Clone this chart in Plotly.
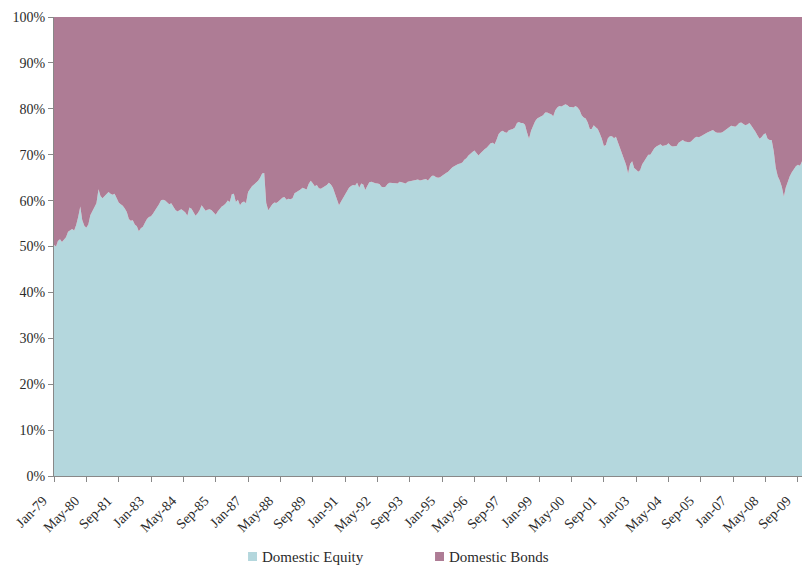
import plotly.graph_objects as go
import pandas as pd

# Monthly share of Domestic Equity (%), Jan-79 .. Nov-09
equity_1979 = [50.3, 50.0, 51.2, 51.6, 51.0, 51.5, 52.0, 53.2, 53.6, 53.8, 53.5, 54.7]
equity_1980 = [56.5, 58.7, 55.8, 54.5, 54.1, 54.8, 56.8, 57.6, 58.4, 59.4, 62.5, 61.0]
equity_1981 = [60.5, 61.0, 61.4, 61.9, 61.5, 61.3, 61.5, 60.4, 59.6, 59.2, 58.9, 58.3]
equity_1982 = [57.5, 56.0, 55.6, 55.7, 54.8, 54.4, 53.3, 54.0, 54.3, 55.2, 56.0, 56.4]
equity_1983 = [56.6, 57.2, 57.8, 58.5, 59.2, 60.1, 60.2, 60.0, 59.5, 59.2, 59.4, 58.6]
equity_1984 = [58.0, 57.6, 57.8, 58.1, 57.8, 57.4, 56.7, 58.5, 58.2, 57.3, 56.7, 57.2]
equity_1985 = [57.9, 59.0, 58.4, 57.8, 58.0, 58.1, 57.9, 57.4, 56.9, 57.6, 58.3, 58.7]
equity_1986 = [59.0, 59.4, 60.0, 59.7, 61.4, 61.5, 59.7, 60.2, 59.0, 59.6, 59.8, 59.4]
equity_1987 = [61.9, 62.6, 63.1, 63.5, 63.8, 64.3, 65.0, 65.9, 66.0, 59.5, 57.9, 58.6]
equity_1988 = [59.2, 59.6, 59.5, 59.8, 60.3, 60.6, 60.8, 60.2, 60.4, 60.3, 60.5, 61.6]
equity_1989 = [61.9, 62.1, 62.4, 62.8, 62.6, 62.4, 63.6, 64.3, 63.8, 63.1, 63.4, 62.7]
equity_1990 = [62.6, 62.9, 63.0, 63.4, 63.9, 63.5, 62.8, 61.5, 60.0, 59.0, 59.8, 60.5]
equity_1991 = [61.2, 61.9, 62.8, 63.2, 63.4, 63.3, 63.9, 62.8, 63.7, 63.5, 62.3, 63.2]
equity_1992 = [64.0, 64.1, 63.9, 63.8, 63.7, 63.6, 63.0, 62.9, 63.0, 63.6, 63.9, 63.9]
equity_1993 = [63.8, 63.8, 63.7, 64.1, 64.0, 63.9, 63.7, 64.1, 64.2, 64.3, 64.5, 64.5]
equity_1994 = [64.6, 64.4, 64.5, 64.6, 64.7, 64.4, 64.9, 65.4, 65.4, 65.1, 65.0, 65.1]
equity_1995 = [65.4, 65.8, 66.0, 66.3, 66.8, 67.2, 67.5, 67.8, 68.0, 68.1, 68.3, 68.9]
equity_1996 = [69.2, 69.8, 70.3, 70.6, 70.9, 70.4, 69.8, 70.3, 70.8, 71.2, 71.5, 72.0]
equity_1997 = [72.5, 72.6, 72.3, 73.3, 74.5, 75.0, 75.2, 74.9, 74.8, 75.3, 75.4, 75.6]
equity_1998 = [75.9, 76.9, 77.1, 76.9, 76.9, 76.5, 74.9, 73.5, 75.2, 76.4, 77.3, 77.9]
equity_1999 = [78.1, 78.4, 78.6, 79.2, 79.2, 79.0, 78.8, 78.4, 79.7, 80.3, 80.6, 80.5]
equity_2000 = [80.7, 81.0, 80.8, 80.4, 80.4, 80.3, 80.6, 80.3, 79.7, 78.6, 78.1, 77.9]
equity_2001 = [77.0, 75.6, 75.6, 76.4, 76.0, 75.6, 74.6, 73.5, 71.9, 72.1, 73.6, 74.0]
equity_2002 = [74.0, 73.6, 73.9, 72.6, 71.3, 70.0, 68.9, 67.8, 65.9, 68.0, 68.6, 67.1]
equity_2003 = [66.7, 66.3, 66.6, 67.9, 68.6, 69.4, 70.0, 70.0, 70.8, 71.4, 71.8, 72.1]
equity_2004 = [72.3, 71.9, 72.0, 72.1, 72.5, 72.0, 71.8, 71.9, 71.9, 72.6, 73.0, 73.2]
equity_2005 = [72.9, 72.8, 72.7, 72.8, 73.3, 73.7, 73.9, 73.8, 74.0, 74.3, 74.5, 74.8]
equity_2006 = [75.0, 75.2, 75.4, 75.0, 74.8, 74.8, 74.8, 75.0, 75.3, 75.6, 76.0, 76.3]
equity_2007 = [76.2, 76.1, 76.4, 76.9, 77.0, 76.7, 76.4, 76.6, 76.9, 76.3, 75.7, 75.0]
equity_2008 = [74.2, 73.5, 73.8, 74.4, 74.7, 73.5, 73.2, 73.2, 70.8, 67.2, 65.3, 64.4]
equity_2009 = [63.0, 60.9, 62.8, 64.3, 65.3, 66.2, 66.8, 67.5, 67.8, 67.6, 68.6]

equity = (equity_1979 + equity_1980 + equity_1981 + equity_1982 + equity_1983 +
          equity_1984 + equity_1985 + equity_1986 + equity_1987 + equity_1988 +
          equity_1989 + equity_1990 + equity_1991 + equity_1992 + equity_1993 +
          equity_1994 + equity_1995 + equity_1996 + equity_1997 + equity_1998 +
          equity_1999 + equity_2000 + equity_2001 + equity_2002 + equity_2003 +
          equity_2004 + equity_2005 + equity_2006 + equity_2007 + equity_2008 +
          equity_2009)
bonds = [round(100 - v, 1) for v in equity]
months = [d.strftime("%Y-%m-%d") for d in
          pd.date_range("1979-01-01", periods=len(equity), freq="MS")]

series_names = ["Domestic Equity", "Domestic Bonds"]
colors = ["#B4D7DD", "#AE7C95"]

FONT = "Liberation Serif"
TEXT_COLOR = "#2b2b2b"

fig = go.Figure()
for name, vals, col in zip(series_names, [equity, bonds], colors):
    fig.add_trace(go.Scatter(
        x=months, y=vals, name=name, mode="lines",
        stackgroup="one", line=dict(width=0, color=col),
        fillcolor=col, showlegend=False,
    ))

# Legend drawn as small square swatches + text, like the original
legend_x = [0.2594, 0.5094]   # left edge of each swatch (paper coords)
sw_w = 0.012
for name, col, lx in zip(series_names, colors, legend_x):
    fig.add_shape(type="rect", xref="paper", yref="paper",
                  x0=lx, x1=lx + sw_w, y0=-0.1852, y1=-0.1656,
                  fillcolor=col, line=dict(width=0))
    fig.add_annotation(xref="paper", yref="paper", x=lx + sw_w + 0.004, y=-0.1755,
                       text=name, showarrow=False, xanchor="left", yanchor="middle",
                       font=dict(family=FONT, size=15, color=TEXT_COLOR))

fig.update_layout(
    width=803, height=565,
    margin=dict(l=54, r=1, t=17, b=89, autoexpand=False),
    paper_bgcolor="white", plot_bgcolor="white",
    font=dict(family=FONT, size=14, color=TEXT_COLOR),
    showlegend=False,
)
fig.update_xaxes(
    type="date", range=[months[0], months[-1]], automargin=False,
    tick0="1979-01-01", dtick="M16", tickformat="%b-%y", tickangle=-45,
    ticklabeloverflow="allow", ticklabelshift=-11, ticklabelstandoff=5,
    ticks="outside", ticklen=5, tickcolor="#888888",
    showline=True, linecolor="#888888", linewidth=1,
    showgrid=False, zeroline=False,
    tickfont=dict(family=FONT, size=14, color=TEXT_COLOR),
)
fig.update_yaxes(
    range=[0, 100], tick0=0, dtick=10, ticksuffix="%", automargin=False,
    ticklabeloverflow="allow",
    ticks="outside", ticklen=5, tickcolor="#888888",
    showline=True, linecolor="#888888", linewidth=1,
    showgrid=False, zeroline=False,
    tickfont=dict(family=FONT, size=14, color=TEXT_COLOR),
)

# remove the browser's default 8px page margin so the 803x565 figure fills the window
fig.write_html("out.html", config={"displayModeBar": False},
               post_script="document.body.style.margin='0px';")
